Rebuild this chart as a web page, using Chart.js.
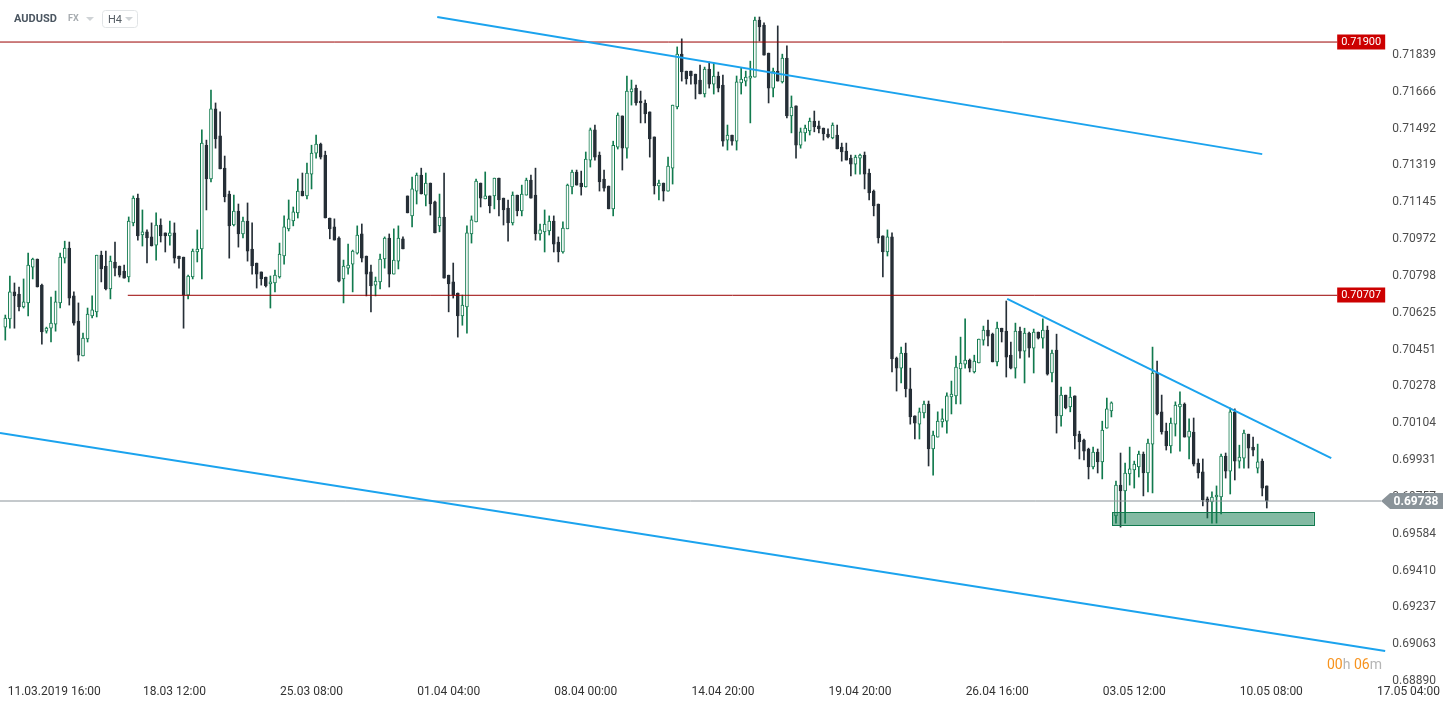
<!DOCTYPE html>
<html>
<head>
<meta charset="utf-8">
<title>AUDUSD H4</title>
<script src="https://cdn.jsdelivr.net/npm/chart.js@4.4.1/dist/chart.umd.min.js"></script>
<style>
  html, body { margin: 0; padding: 0; background: #fff; }
  #wrap { width: 1453px; height: 709px; }
</style>
</head>
<body>
<div id="wrap"><canvas id="chart" width="1453" height="709"></canvas></div>
<script>
// H4 candles, 11.03.2019 -> 10.05.2019
const opens = [
  0.70557, 0.70596, 0.70723, 0.70713, 0.70652, 0.70671, 0.70840, 0.70878, 0.70755, 0.70538,
  0.70552, 0.70571, 0.70671, 0.70882, 0.70929, 0.70704, 0.70585, 0.70421, 0.70501, 0.70610,
  0.70629, 0.70896, 0.70845, 0.70737, 0.70864, 0.70845, 0.70821, 0.70793, 0.71048, 0.71165,
  0.70991, 0.71006, 0.70982, 0.70943, 0.71038, 0.71001, 0.70987, 0.71001, 0.70892, 0.70887,
  0.70708, 0.70793, 0.70911, 0.70925, 0.71414, 0.71255, 0.71585, 0.71458, 0.71306, 0.71184,
  0.71038, 0.71104, 0.70996, 0.71057, 0.70925, 0.70859, 0.70817, 0.70793, 0.70760, 0.70765,
  0.70793, 0.70892, 0.71020, 0.71057, 0.71095, 0.71198, 0.71175, 0.71278, 0.71377, 0.71419,
  0.71367, 0.71071, 0.71029, 0.70977, 0.70784, 0.70835, 0.70854, 0.70906, 0.70996, 0.70892,
  0.70817, 0.70755, 0.70770, 0.70878, 0.70977, 0.70807, 0.70868, 0.70973, 0.71175, 0.71081,
  0.71198, 0.71273, 0.71179, 0.71236, 0.71147, 0.71034, 0.71076, 0.70802, 0.70770, 0.70718,
  0.70610, 0.70652, 0.70996, 0.71053, 0.71236, 0.71161, 0.71175, 0.71175, 0.71259, 0.71165,
  0.71118, 0.71048, 0.71179, 0.71104, 0.71179, 0.71250, 0.71179, 0.70996, 0.71006, 0.71010,
  0.71057, 0.70958, 0.70911, 0.71020, 0.71217, 0.71288, 0.71236, 0.71217, 0.71344, 0.71486,
  0.71367, 0.71255, 0.71222, 0.71114, 0.71405, 0.71552, 0.71400, 0.71665, 0.71683, 0.71622,
  0.71613, 0.71571, 0.71453, 0.71222, 0.71236, 0.71198, 0.71306, 0.71594, 0.71843, 0.71763,
  0.71763, 0.71749, 0.71721, 0.71655, 0.71773, 0.71702, 0.71740, 0.71697, 0.71438, 0.71462,
  0.71433, 0.71707, 0.71716, 0.71730, 0.71735, 0.72004, 0.71980, 0.71848, 0.71683, 0.71763,
  0.71712, 0.71824, 0.71552, 0.71599, 0.71414, 0.71472, 0.71481, 0.71528, 0.71505, 0.71495,
  0.71467, 0.71448, 0.71462, 0.71405, 0.71386, 0.71353, 0.71325, 0.71353, 0.71367, 0.71283,
  0.71198, 0.71137, 0.70987, 0.70911, 0.70982, 0.70411, 0.70364, 0.70435, 0.70266, 0.70139,
  0.70100, 0.70153, 0.70195, 0.69983, 0.70039, 0.70110, 0.70114, 0.70228, 0.70233, 0.70360,
  0.70383, 0.70402, 0.70346, 0.70388, 0.70496, 0.70543, 0.70524, 0.70393, 0.70552, 0.70538,
  0.70425, 0.70364, 0.70538, 0.70444, 0.70529, 0.70458, 0.70534, 0.70505, 0.70543, 0.70341,
  0.70449, 0.70139, 0.70237, 0.70181, 0.70233, 0.70053, 0.70025, 0.69983, 0.69898, 0.69969,
  0.69922, 0.70081, 0.70162, 0.69668, 0.69813, 0.69785, 0.69865, 0.69884, 0.69898, 0.69959,
  0.69870, 0.70006, 0.70341, 0.70158, 0.70067, 0.69997, 0.70100, 0.70181, 0.70195, 0.70039,
  0.70063, 0.69917, 0.69875, 0.69748, 0.69734, 0.69757, 0.69757, 0.69950, 0.69879, 0.70158,
  0.69926, 0.69940, 0.70053, 0.69992, 0.69893, 0.69926, 0.69809
];
const highs = [
  0.70614, 0.70798, 0.70765, 0.70746, 0.70784, 0.70906, 0.70882, 0.70878, 0.70760, 0.70557,
  0.70699, 0.70727, 0.70906, 0.70962, 0.70958, 0.70723, 0.70671, 0.70529, 0.70647, 0.70704,
  0.70896, 0.70915, 0.70915, 0.70892, 0.70958, 0.70845, 0.70849, 0.71076, 0.71175, 0.71184,
  0.71109, 0.71015, 0.71048, 0.71095, 0.71067, 0.71001, 0.71057, 0.71048, 0.70892, 0.70887,
  0.70802, 0.70925, 0.71015, 0.71486, 0.71438, 0.71674, 0.71613, 0.71571, 0.71363, 0.71198,
  0.71179, 0.71137, 0.71076, 0.71142, 0.71048, 0.70859, 0.70817, 0.70793, 0.70798, 0.70826,
  0.70953, 0.71081, 0.71156, 0.71123, 0.71255, 0.71283, 0.71330, 0.71414, 0.71462, 0.71424,
  0.71386, 0.71071, 0.71067, 0.70982, 0.70873, 0.70948, 0.70920, 0.71034, 0.71043, 0.70892,
  0.70849, 0.70793, 0.70901, 0.70982, 0.70996, 0.71020, 0.71034, 0.70982, 0.71175, 0.71264,
  0.71283, 0.71306, 0.71283, 0.71236, 0.71151, 0.71184, 0.71283, 0.70802, 0.70859, 0.70718,
  0.70708, 0.71034, 0.71081, 0.71255, 0.71236, 0.71288, 0.71175, 0.71259, 0.71259, 0.71165,
  0.71156, 0.71194, 0.71179, 0.71226, 0.71259, 0.71273, 0.71306, 0.71043, 0.71109, 0.71081,
  0.71081, 0.70982, 0.71053, 0.71231, 0.71297, 0.71297, 0.71292, 0.71382, 0.71495, 0.71509,
  0.71382, 0.71297, 0.71222, 0.71433, 0.71566, 0.71552, 0.71740, 0.71721, 0.71697, 0.71669,
  0.71627, 0.71571, 0.71453, 0.71250, 0.71236, 0.71358, 0.71603, 0.71877, 0.71915, 0.71763,
  0.71763, 0.71749, 0.71791, 0.71782, 0.71806, 0.71801, 0.71759, 0.71744, 0.71509, 0.71462,
  0.71740, 0.71777, 0.71763, 0.71810, 0.72018, 0.72018, 0.71990, 0.71848, 0.71777, 0.71976,
  0.71843, 0.71882, 0.71646, 0.71599, 0.71495, 0.71509, 0.71542, 0.71575, 0.71528, 0.71495,
  0.71491, 0.71519, 0.71509, 0.71424, 0.71424, 0.71367, 0.71367, 0.71372, 0.71382, 0.71302,
  0.71203, 0.71137, 0.70987, 0.71015, 0.71001, 0.70416, 0.70463, 0.70482, 0.70364, 0.70139,
  0.70176, 0.70209, 0.70209, 0.70067, 0.70158, 0.70172, 0.70247, 0.70303, 0.70421, 0.70510,
  0.70596, 0.70407, 0.70425, 0.70501, 0.70562, 0.70590, 0.70529, 0.70581, 0.70552, 0.70680,
  0.70487, 0.70576, 0.70557, 0.70552, 0.70534, 0.70548, 0.70534, 0.70596, 0.70562, 0.70449,
  0.70524, 0.70275, 0.70237, 0.70275, 0.70233, 0.70067, 0.70030, 0.69987, 0.69992, 0.69983,
  0.70114, 0.70223, 0.70205, 0.69832, 0.69964, 0.69917, 0.69992, 0.69926, 0.69973, 0.69969,
  0.70030, 0.70463, 0.70397, 0.70237, 0.70105, 0.70129, 0.70205, 0.70252, 0.70200, 0.70125,
  0.70129, 0.69936, 0.69936, 0.69757, 0.69781, 0.69809, 0.69959, 0.69964, 0.70176, 0.70172,
  0.70001, 0.70072, 0.70053, 0.70039, 0.70006, 0.69936, 0.69809
];
const lows = [
  0.70496, 0.70552, 0.70552, 0.70633, 0.70647, 0.70610, 0.70784, 0.70746, 0.70477, 0.70529,
  0.70487, 0.70538, 0.70647, 0.70859, 0.70661, 0.70566, 0.70397, 0.70421, 0.70487, 0.70600,
  0.70605, 0.70770, 0.70732, 0.70690, 0.70798, 0.70793, 0.70788, 0.70770, 0.71034, 0.70967,
  0.70939, 0.70859, 0.70939, 0.70873, 0.70958, 0.70911, 0.70943, 0.70859, 0.70835, 0.70552,
  0.70690, 0.70784, 0.70864, 0.70784, 0.71109, 0.71241, 0.71400, 0.71302, 0.71147, 0.70882,
  0.71034, 0.70934, 0.70977, 0.70868, 0.70807, 0.70741, 0.70755, 0.70746, 0.70647, 0.70723,
  0.70788, 0.70854, 0.71010, 0.71034, 0.71071, 0.71175, 0.71161, 0.71208, 0.71353, 0.71349,
  0.71071, 0.70973, 0.70967, 0.70770, 0.70671, 0.70807, 0.70723, 0.70901, 0.70864, 0.70704,
  0.70629, 0.70704, 0.70737, 0.70835, 0.70746, 0.70807, 0.70831, 0.70925, 0.71095, 0.71029,
  0.71137, 0.71184, 0.71128, 0.71085, 0.71001, 0.71006, 0.70788, 0.70629, 0.70694, 0.70510,
  0.70566, 0.70529, 0.70953, 0.71053, 0.71123, 0.71161, 0.71095, 0.71114, 0.71081, 0.71038,
  0.70962, 0.71038, 0.71081, 0.71081, 0.71179, 0.71165, 0.70967, 0.70967, 0.70911, 0.70991,
  0.70911, 0.70864, 0.70906, 0.71020, 0.71184, 0.71226, 0.71179, 0.71217, 0.71311, 0.71344,
  0.71198, 0.71198, 0.71114, 0.71081, 0.71396, 0.71297, 0.71353, 0.71603, 0.71603, 0.71519,
  0.71519, 0.71358, 0.71184, 0.71156, 0.71151, 0.71198, 0.71231, 0.71585, 0.71716, 0.71702,
  0.71702, 0.71632, 0.71655, 0.71641, 0.71683, 0.71655, 0.71665, 0.71410, 0.71391, 0.71414,
  0.71391, 0.71655, 0.71693, 0.71519, 0.71735, 0.71905, 0.71838, 0.71613, 0.71641, 0.71716,
  0.71707, 0.71542, 0.71472, 0.71353, 0.71400, 0.71433, 0.71462, 0.71477, 0.71472, 0.71438,
  0.71448, 0.71444, 0.71396, 0.71339, 0.71344, 0.71269, 0.71278, 0.71278, 0.71208, 0.71156,
  0.71081, 0.70953, 0.70793, 0.70892, 0.70346, 0.70256, 0.70294, 0.70228, 0.70100, 0.70030,
  0.70030, 0.70129, 0.69903, 0.69860, 0.70039, 0.70086, 0.70058, 0.70148, 0.70195, 0.70195,
  0.70364, 0.70346, 0.70341, 0.70388, 0.70472, 0.70468, 0.70393, 0.70374, 0.70487, 0.70322,
  0.70360, 0.70317, 0.70411, 0.70294, 0.70416, 0.70341, 0.70501, 0.70458, 0.70331, 0.70299,
  0.70058, 0.70091, 0.70172, 0.70158, 0.69983, 0.69936, 0.69931, 0.69842, 0.69889, 0.69870,
  0.69842, 0.70081, 0.70134, 0.69634, 0.69615, 0.69634, 0.69813, 0.69799, 0.69851, 0.69762,
  0.69781, 0.69776, 0.70143, 0.70053, 0.69978, 0.69964, 0.70044, 0.69973, 0.70039, 0.69936,
  0.69903, 0.69846, 0.69715, 0.69658, 0.69634, 0.69634, 0.69677, 0.69846, 0.69771, 0.69837,
  0.69893, 0.69893, 0.69893, 0.69950, 0.69870, 0.69762, 0.69705
];
const closes = [
  0.70600, 0.70723, 0.70704, 0.70652, 0.70676, 0.70849, 0.70878, 0.70746, 0.70534, 0.70552,
  0.70576, 0.70676, 0.70887, 0.70929, 0.70694, 0.70576, 0.70425, 0.70505, 0.70619, 0.70638,
  0.70896, 0.70831, 0.70737, 0.70868, 0.70835, 0.70802, 0.70788, 0.71057, 0.71165, 0.70987,
  0.71006, 0.70977, 0.70939, 0.71038, 0.70987, 0.70987, 0.71001, 0.70882, 0.70878, 0.70708,
  0.70798, 0.70915, 0.70925, 0.71424, 0.71255, 0.71585, 0.71444, 0.71302, 0.71170, 0.71034,
  0.71104, 0.70996, 0.71057, 0.70915, 0.70845, 0.70807, 0.70784, 0.70751, 0.70770, 0.70802,
  0.70901, 0.71029, 0.71067, 0.71100, 0.71198, 0.71175, 0.71283, 0.71377, 0.71419, 0.71358,
  0.71071, 0.71020, 0.70967, 0.70774, 0.70845, 0.70849, 0.70915, 0.70991, 0.70882, 0.70807,
  0.70751, 0.70774, 0.70878, 0.70977, 0.70807, 0.70873, 0.70977, 0.70925, 0.71095, 0.71208,
  0.71273, 0.71184, 0.71236, 0.71137, 0.71001, 0.71076, 0.70788, 0.70760, 0.70708, 0.70610,
  0.70661, 0.71001, 0.71062, 0.71245, 0.71165, 0.71175, 0.71128, 0.71259, 0.71156, 0.71109,
  0.71048, 0.71179, 0.71104, 0.71184, 0.71250, 0.71165, 0.70996, 0.71015, 0.71043, 0.71057,
  0.70948, 0.70911, 0.71024, 0.71226, 0.71288, 0.71226, 0.71217, 0.71349, 0.71486, 0.71358,
  0.71241, 0.71212, 0.71114, 0.71414, 0.71556, 0.71400, 0.71669, 0.71679, 0.71613, 0.71613,
  0.71561, 0.71444, 0.71222, 0.71236, 0.71198, 0.71316, 0.71603, 0.71843, 0.71759, 0.71726,
  0.71740, 0.71702, 0.71655, 0.71773, 0.71702, 0.71740, 0.71683, 0.71433, 0.71462, 0.71433,
  0.71712, 0.71726, 0.71735, 0.71740, 0.72004, 0.71971, 0.71838, 0.71683, 0.71763, 0.71716,
  0.71824, 0.71552, 0.71594, 0.71414, 0.71477, 0.71495, 0.71528, 0.71500, 0.71491, 0.71467,
  0.71453, 0.71509, 0.71396, 0.71382, 0.71344, 0.71325, 0.71358, 0.71367, 0.71278, 0.71189,
  0.71128, 0.70977, 0.70911, 0.70982, 0.70407, 0.70364, 0.70435, 0.70266, 0.70134, 0.70105,
  0.70158, 0.70195, 0.69983, 0.70048, 0.70114, 0.70125, 0.70233, 0.70242, 0.70369, 0.70388,
  0.70402, 0.70364, 0.70397, 0.70501, 0.70543, 0.70515, 0.70393, 0.70552, 0.70534, 0.70416,
  0.70364, 0.70538, 0.70444, 0.70529, 0.70458, 0.70534, 0.70505, 0.70543, 0.70336, 0.70435,
  0.70139, 0.70237, 0.70176, 0.70228, 0.70044, 0.70016, 0.69973, 0.69898, 0.69969, 0.69922,
  0.70072, 0.70172, 0.70200, 0.69813, 0.69785, 0.69870, 0.69889, 0.69912, 0.69959, 0.69870,
  0.70011, 0.70341, 0.70148, 0.70063, 0.69997, 0.70105, 0.70190, 0.70195, 0.70039, 0.70067,
  0.69912, 0.69870, 0.69743, 0.69734, 0.69757, 0.69766, 0.69950, 0.69879, 0.70158, 0.69926,
  0.69945, 0.70058, 0.69987, 0.69978, 0.69922, 0.69799, 0.69738
];

// time axis: candle index of each label
const timeTickAt = [10.7, 37, 67, 97, 127, 157, 187, 217, 247, 277, 307];
const timeLabels = ["11.03.2019 16:00", "18.03 12:00", "25.03 08:00", "01.04 04:00", "08.04 00:00",
  "14.04 20:00", "19.04 20:00", "26.04 16:00", "03.05 12:00", "10.05 08:00", "17.05 04:00"];
const priceTicks = [0.71839, 0.71666, 0.71492, 0.71319, 0.71145, 0.70972, 0.70798, 0.70625, 0.70451,
  0.70278, 0.70104, 0.69931, 0.69757, 0.69584, 0.69410, 0.69237, 0.69063, 0.68890];

// drawings on the chart (candle index, price)
const levels = [0.71900, 0.70707];
const levelFrom = [-1.2, 26.8];
const levelTo = 291.4;
const lastPrice = 0.69738;
const lastPriceTo = 301;
const trendA = [[94.5, 0.72018], [275.0, 0.71372]];
const trendB = [[-1.16, 0.70058], [301.9, 0.69031]];
const trendC = [[219.2, 0.70690], [290.1, 0.69940]];
const zoneX = [242.2, 286.3];
const zoneY = [0.69623, 0.69685];

const GREEN = "#117a4e";
const DARK = "#262f37";
const BLUE = "#1ba3ee";

const isUp = opens.map((o, i) => closes[i] >= o);
const wickData = opens.map((o, i) => ({ x: i, y: [lows[i], highs[i]] }));
const bodyData = opens.map((o, i) => ({ x: i, y: [o, closes[i]] }));

function seg(pts) {
  return pts.map(p => ({ x: p[0], y: p[1] }));
}

const lineSet = (data, color, width) => ({
  type: "line",
  data: data,
  borderColor: color,
  borderWidth: width,
  pointRadius: 0,
  fill: false,
  tension: 0,
  order: 0
});

// no extra padding around the axes, the plot fills the canvas
function noPad(s) {
  s.paddingTop = 0;
  s.paddingBottom = 0;
  s.paddingLeft = 0;
  s.paddingRight = 0;
}

const extras = {
  id: "extras",
  afterDatasetsDraw(chart) {
    const { ctx, scales: { x, y } } = chart;
    const x0 = x.getPixelForValue(zoneX[0]);
    const x1 = x.getPixelForValue(zoneX[1]);
    const yTop = y.getPixelForValue(zoneY[1]);
    const yBot = y.getPixelForValue(zoneY[0]);
    ctx.save();
    ctx.fillStyle = "rgba(17,122,78,0.52)";
    ctx.fillRect(x0, yTop, x1 - x0, yBot - yTop);
    ctx.strokeStyle = GREEN;
    ctx.lineWidth = 1;
    ctx.strokeRect(Math.round(x0) + 0.5, Math.round(yTop) + 0.5, Math.round(x1 - x0), Math.round(yBot - yTop));
    ctx.restore();
  },
  afterDraw(chart) {
    const { ctx, scales: { x, y } } = chart;
    ctx.save();

    // level tags
    const tagLeft = x.getPixelForValue(levelTo);
    ctx.font = "11px Roboto";
    ctx.textAlign = "center";
    ctx.textBaseline = "middle";
    levels.forEach(v => {
      const py = Math.round(y.getPixelForValue(v));
      ctx.fillStyle = "#cc0000";
      ctx.fillRect(tagLeft, py - 7.5, 48, 15);
      ctx.fillStyle = "#fff";
      ctx.fillText(v.toFixed(5), tagLeft + 24, py + 0.5);
    });

    // last price tag
    const py = Math.round(y.getPixelForValue(lastPrice));
    const tip = x.getPixelForValue(lastPriceTo);
    ctx.fillStyle = "#8a9399";
    ctx.beginPath();
    ctx.moveTo(tip, py);
    ctx.lineTo(tip + 9, py - 8);
    ctx.lineTo(1443, py - 8);
    ctx.lineTo(1443, py + 8);
    ctx.lineTo(tip + 9, py + 8);
    ctx.closePath();
    ctx.fill();
    ctx.fillStyle = "#fff";
    ctx.font = "bold 12px Roboto";
    ctx.fillText(lastPrice.toFixed(5), 1416, py + 0.5);

    // countdown
    ctx.font = "14px Roboto";
    ctx.textAlign = "left";
    ctx.textBaseline = "alphabetic";
    let cx = 1327;
    [["00", "#f7931e"], ["h ", "#b5b5b5"], ["06", "#f7931e"], ["m", "#b5b5b5"]].forEach(p => {
      ctx.fillStyle = p[1];
      ctx.fillText(p[0], cx, 669);
      cx += ctx.measureText(p[0]).width;
    });

    // header
    ctx.font = "bold 11px Roboto";
    ctx.fillStyle = "#4b5661";
    ctx.fillText("AUDUSD", 14, 22);
    ctx.font = "bold 9px Roboto";
    ctx.fillStyle = "#a7acb0";
    ctx.fillText("FX", 68, 21);
    ctx.fillStyle = "#cfd3d6";
    [[86, 17], [125, 17]].forEach(t => {
      ctx.beginPath();
      ctx.moveTo(t[0], t[1]);
      ctx.lineTo(t[0] + 8, t[1]);
      ctx.lineTo(t[0] + 4, t[1] + 4);
      ctx.closePath();
      ctx.fill();
    });
    ctx.strokeStyle = "#e1e4e6";
    ctx.lineWidth = 1;
    ctx.beginPath();
    ctx.roundRect(102.5, 10.5, 35, 17, 3);
    ctx.stroke();
    ctx.font = "11px Roboto";
    ctx.fillStyle = "#555d64";
    ctx.fillText("H4", 108, 23);
    ctx.restore();
  }
};

new Chart(document.getElementById("chart"), {
  type: "bar",
  data: {
    datasets: [
      lineSet(seg(trendA), BLUE, 2),
      lineSet(seg(trendB), BLUE, 2),
      lineSet(seg(trendC), BLUE, 2),
      lineSet([{ x: levelFrom[0], y: levels[0] }, { x: levelTo, y: levels[0] }], "#9a0000", 1),
      lineSet([{ x: levelFrom[1], y: levels[1] }, { x: levelTo, y: levels[1] }], "#9a0000", 1),
      lineSet([{ x: -1.2, y: lastPrice }, { x: lastPriceTo, y: lastPrice }], "#8a9399", 1),
      {
        data: bodyData,
        backgroundColor: isUp.map(u => u ? "#ffffff" : DARK),
        borderColor: isUp.map(u => u ? GREEN : DARK),
        borderWidth: 1,
        borderSkipped: false,
        barThickness: 3,
        minBarLength: 2,
        grouped: false,
        order: 1
      },
      {
        data: wickData,
        backgroundColor: isUp.map(u => u ? GREEN : DARK),
        borderWidth: 0,
        barThickness: 1,
        grouped: false,
        order: 2
      }
    ]
  },
  options: {
    responsive: false,
    animation: false,
    layout: { padding: 0 },
    plugins: { legend: { display: false }, tooltip: { enabled: false } },
    scales: {
      x: {
        type: "linear",
        min: -1.16,
        max: 309.3,
        offset: false,
        grid: { display: false, drawTicks: false },
        border: { display: false },
        afterBuildTicks: s => { s.ticks = timeTickAt.map(v => ({ value: v })); },
        afterFit: s => { s.height = 25; noPad(s); },
        ticks: {
          autoSkip: false,
          maxRotation: 0,
          padding: 1,
          color: "#333",
          font: { family: "Roboto", size: 12 },
          callback: (v, i) => timeLabels[i]
        }
      },
      y: {
        type: "linear",
        position: "right",
        min: 0.68876,
        max: 0.72098,
        grid: { display: false, drawTicks: false },
        border: { display: false },
        afterBuildTicks: s => { s.ticks = priceTicks.map(v => ({ value: v })); },
        afterFit: s => { s.width = 34; noPad(s); },
        ticks: {
          mirror: true,
          padding: 17,
          color: "#4d4d4d",
          font: { family: "Roboto", size: 12 },
          callback: v => v.toFixed(5)
        }
      }
    }
  },
  plugins: [extras]
});
</script>
</body>
</html>
